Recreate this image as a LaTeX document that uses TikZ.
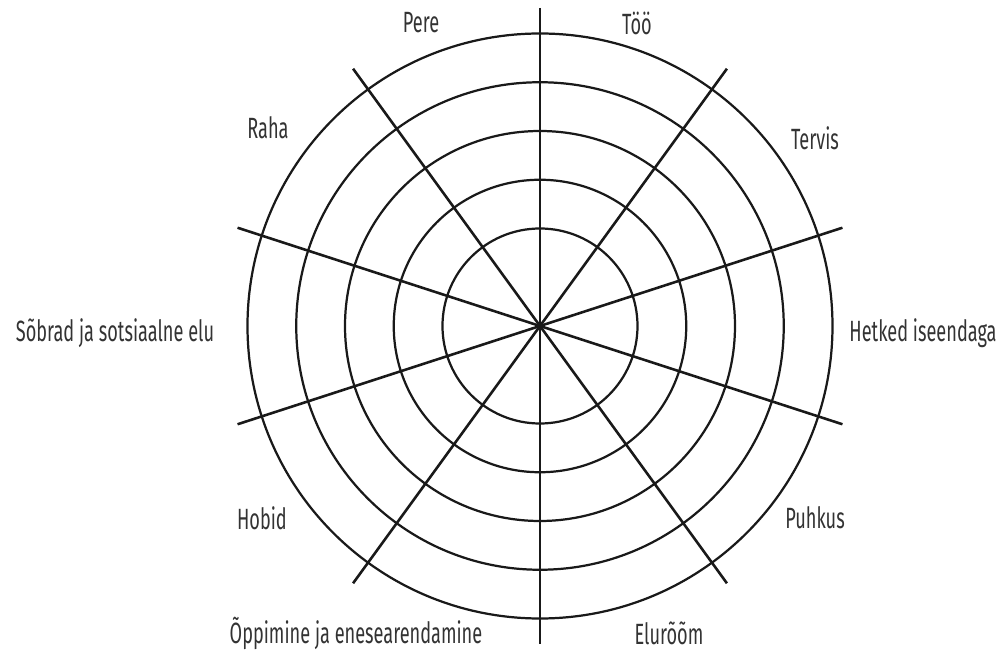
\documentclass[tikz,border=0pt]{standalone}
\usepackage{fontspec}
\setmainfont{Fira Sans}[FakeStretch=0.62]
\usepackage{tikz}
\usetikzlibrary{positioning}
\tikzset{
  ring/.style={draw=black!90, line width=1.9pt},
  spoke/.style={draw=black!90, line width=2.2pt},
  area/.style={font=\fontsize{25}{28}\selectfont, text=black!80, inner sep=0pt}
}

\begin{document}
\begin{tikzpicture}[x=0.03cm, y=0.03cm]

\useasboundingbox (-540,-326) rectangle (466,326);

% rings
\foreach \k in {2,...,6}
  \draw[ring] (0,0) circle ({48.75*\k});

% spokes
\foreach \a in {90,54,18,-18,-54}
  \draw[spoke] (\a:318) -- (\a+180:318);

% labels
\node[area] (too)     at (97,303)    {Töö};
\node[area] (pere)    at (-119,303)  {Pere};
\node[area] (tervis)  at (275,188)   {Tervis};
\node[area] (raha)    at (-272,198)  {Raha};
\node[area] (hetked)  at (383,-7)    {Hetked iseendaga};
\node[area] (sobrad)  at (-425,-7)   {Sõbrad ja sotsiaalne elu};
\node[area] (hobid)   at (-278,-192) {Hobid};
\node[area] (puhkus)  at (275,-192)  {Puhkus};
\node[area] (oppimine) at (-184,-307) {Õppimine ja enesearendamine};
\node[area] (elurõõm) at (129,-307)  {Elurõõm};

\end{tikzpicture}
\end{document}
